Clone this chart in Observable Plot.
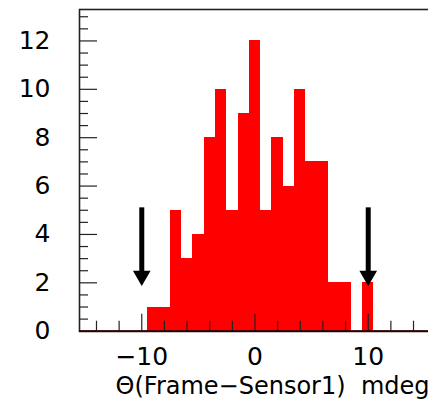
<!DOCTYPE html>
<html>
<head>
<meta charset="utf-8">
<script src="https://cdn.jsdelivr.net/npm/d3@7"></script>
<script src="https://cdn.jsdelivr.net/npm/@observablehq/plot@0.6"></script>
<style>
  html, body { margin: 0; padding: 0; background: #fff; }
  #chart svg { display: block; }
</style>
</head>
<body>
<div id="chart"></div>
<script>
// Histogram bins (bin centers, width 1 mdeg) and counts
const binCenters = [-9, -8, -7, -6, -5, -4, -3, -2, -1, 0, 1, 2, 3, 4, 5, 6, 7, 8, 9, 10];
const counts     = [ 1,  1,  5,  3,  4,  8, 10,  5,  9, 12, 5, 8, 6, 10, 7, 7, 2, 2, 0, 2];
const xDomain = [-15.5, 15.5];
const yDomain = [0, 13.3];
const xMajorTicks = [-10, 0, 10];
const xMinorTicks = [-14, -12, -8, -6, -4, -2, 2, 4, 6, 8, 12, 14];
const yMajorTicks = [0, 2, 4, 6, 8, 10, 12];
const yMinorTicks = [0.5, 1, 1.5, 2.5, 3, 3.5, 4.5, 5, 5.5, 6.5, 7, 7.5, 8.5, 9, 9.5, 10.5, 11, 11.5, 12.5, 13];
const arrowX = [-10, 10];
const arrowTop = 5.1;
const arrowTip = 1.93;
const xTitle = "Θ(Frame−Sensor1)  mdeg";

const bins = binCenters.map((c, i) => ({x1: c - 0.5, x2: c + 0.5, count: counts[i]}));

const W = 428, H = 400;
const mL = 79, mT = 9, mR = -2, mB = 69.3;
const frameW = W - mL - mR, frameH = H - mT - mB;
const font = "DejaVu Sans";

const chart = Plot.plot({
  width: W,
  height: H,
  marginLeft: mL,
  marginTop: mT,
  marginRight: mR,
  marginBottom: mB,
  style: {fontFamily: font, background: "#fff", overflow: "hidden"},
  x: {domain: xDomain},
  y: {domain: yDomain},
  marks: [
    Plot.rectY(bins, {x1: "x1", x2: "x2", y: "count", fill: "#ff0000", inset: 0, shapeRendering: "crispEdges"}),
    // axis ticks (inward, ROOT style)
    Plot.tickY(yMajorTicks, {y: d => d, stroke: "#222", strokeWidth: 1.2, insetRight: frameW - 18}),
    Plot.tickY(yMinorTicks, {y: d => d, stroke: "#222", strokeWidth: 1.2, insetRight: frameW - 9}),
    Plot.tickX(xMajorTicks, {x: d => d, stroke: "#222", strokeWidth: 1.2, insetTop: frameH - 17}),
    Plot.tickX(xMinorTicks, {x: d => d, stroke: "#222", strokeWidth: 1.2, insetTop: frameH - 10}),
    Plot.frame({stroke: "#222", strokeWidth: 1.6}),
    Plot.ruleY([0], {stroke: "#300000", strokeWidth: 2}),
    Plot.axisY({ticks: yMajorTicks, tickSize: 0, tickPadding: 29, fontSize: 25, tickFormat: d => String(d), label: null, fill: "#000"}),
    Plot.axisX({ticks: xMajorTicks, tickSize: 0, tickPadding: 16, fontSize: 25, label: null, fill: "#000"}),
    Plot.text([xTitle], {frameAnchor: "bottom-right", text: d => d, dx: -1, dy: 55, fontSize: 24, textAnchor: "end", lineAnchor: "middle", fill: "#000"}),
    // arrows: shaft + filled head
    Plot.ruleX(arrowX, {x: d => d, y1: arrowTop, y2: arrowTip, insetBottom: 6, stroke: "#000", strokeWidth: 5}),
    Plot.dot(arrowX, {x: d => d, y: arrowTip, dy: -8.7, symbol: "triangle", r: 5.6, rotate: 180, fill: "#000", stroke: "#000", strokeWidth: 1.5})
  ]
});
document.getElementById("chart").appendChild(chart);
</script>
</body>
</html>
